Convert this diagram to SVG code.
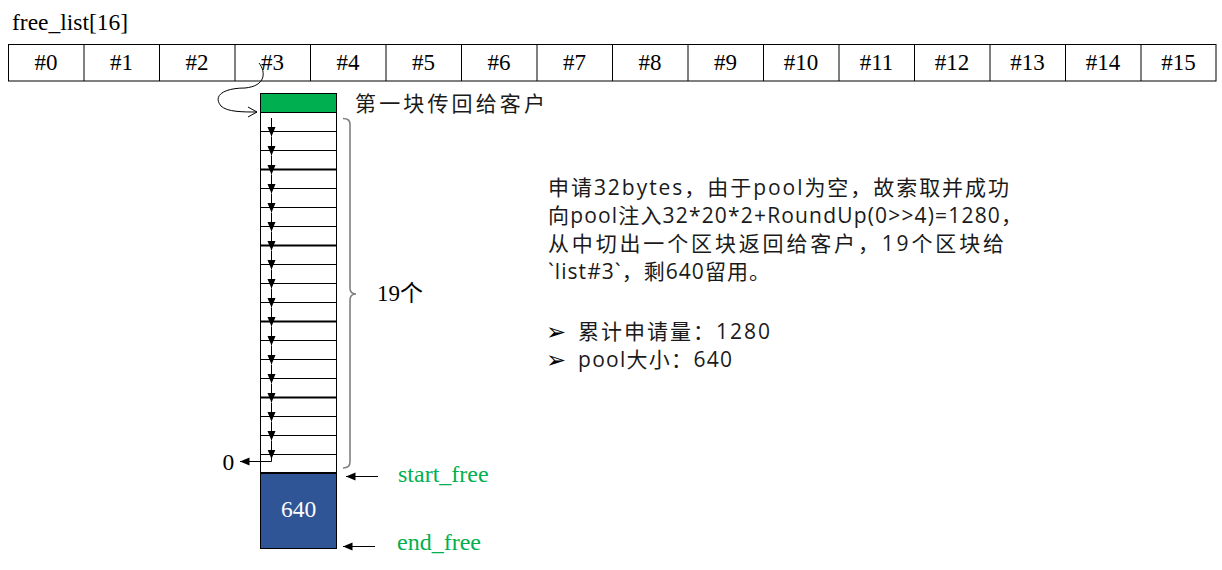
<svg xmlns="http://www.w3.org/2000/svg" width="1222" height="570" viewBox="0 0 1222 570">
<style>
.serif{font-family:"Liberation Serif","Noto Sans CJK SC",serif;fill:#000}
.cell{fill:#fff;stroke:#000;stroke-width:1}
.lbl{font-family:"Liberation Serif",serif;font-size:23px;text-anchor:middle}
.cjk{font-family:"Open Sans","Noto Sans CJK SC",sans-serif;font-size:21px;fill:#1a1a1a}
.green{font-family:"Liberation Serif",serif;font-size:24px;fill:#00B050}
.ln{stroke:#000;stroke-width:1;fill:none}
.bk{stroke:#000;stroke-width:2.2}
.bul{font-family:"DejaVu Sans",sans-serif;font-size:24px;fill:#000}
</style>
<defs>
<marker id="tri" markerUnits="userSpaceOnUse" markerWidth="10" markerHeight="10" viewBox="0 0 10 10" refX="9.5" refY="5" orient="auto">
<path d="M0,1 L9.5,5 L0,9 z" fill="#000"/>
</marker>
<marker id="open" markerUnits="userSpaceOnUse" markerWidth="12" markerHeight="12" viewBox="0 0 12 12" refX="10" refY="6" orient="auto">
<path d="M1,1 L10,6 L1,11" fill="none" stroke="#000" stroke-width="1"/>
</marker>
</defs>
<rect width="1222" height="570" fill="#fff"/>
<g id="title"><text class="serif" x="12" y="30" font-size="23.5">free_list[16]</text></g>
<g id="free_list">
<rect class="cell" x="8.5" y="44.5" width="1207.5" height="36.5"/>
<g class="ln">
<path d="M84,44.5V81M159.5,44.5V81M235,44.5V81M310.5,44.5V81M386,44.5V81M461.5,44.5V81M537,44.5V81M612.5,44.5V81M688,44.5V81M763.5,44.5V81M839,44.5V81M914.5,44.5V81M990,44.5V81M1065.5,44.5V81M1141,44.5V81"/>
</g>
<g class="serif lbl">
<text x="46" y="70">#0</text><text x="121.5" y="70">#1</text><text x="197" y="70">#2</text><text x="272.5" y="70">#3</text><text x="348" y="70">#4</text><text x="423.5" y="70">#5</text><text x="499" y="70">#6</text><text x="574.5" y="70">#7</text><text x="650" y="70">#8</text><text x="725.5" y="70">#9</text><text x="801" y="70">#10</text><text x="876.5" y="70">#11</text><text x="952" y="70">#12</text><text x="1027.5" y="70">#13</text><text x="1103" y="70">#14</text><text x="1178.5" y="70">#15</text>
</g>
</g>
<g id="first_block">
<rect x="260.5" y="93.5" width="76" height="19" fill="#00B050" stroke="#000" stroke-width="1"/>
<text class="cjk" x="355" y="111" font-size="20" textLength="190" lengthAdjust="spacing">第一块传回给客户</text>
</g>
<g id="chunk_column">
<rect x="260.5" y="112.5" width="76" height="361" fill="#fff" stroke="#000" stroke-width="1"/>
<path class="ln" d="M260.5,131.5H336.5M260.5,150.5H336.5M260.5,188.5H336.5M260.5,207.5H336.5M260.5,226.5H336.5M260.5,264.5H336.5M260.5,283.5H336.5M260.5,302.5H336.5M260.5,340.5H336.5M260.5,359.5H336.5M260.5,378.5H336.5M260.5,416.5H336.5M260.5,435.5H336.5M260.5,454.5H336.5"/>
<path class="bk" d="M260,169.5H337M260,245.5H337M260,321.5H337M260,397.5H337M260,473H337"/>
</g>
<g id="connectors">
<path class="ln" d="M259,63 C266,72 266,86 245,88 C225,88 212,95 221,106 C227,112 243,112 257,112" marker-end="url(#open)"/>
<g class="ln" marker-end="url(#tri)">
<path d="M271.5,118V136.5"/><path d="M271.5,137V155.5"/><path d="M271.5,156V174.5"/><path d="M271.5,175V193.5"/><path d="M271.5,194V212.5"/><path d="M271.5,213V231.5"/><path d="M271.5,232V250.5"/><path d="M271.5,251V269.5"/><path d="M271.5,270V288.5"/><path d="M271.5,289V307.5"/><path d="M271.5,308V326.5"/><path d="M271.5,327V345.5"/><path d="M271.5,346V364.5"/><path d="M271.5,365V383.5"/><path d="M271.5,384V402.5"/><path d="M271.5,403V421.5"/><path d="M271.5,422V440.5"/><path d="M271.5,441V459"/>
<path d="M271.5,458V461.5H240"/>
<path d="M378,476.5H346"/>
<path d="M375,546.5H343"/>
</g>
</g>
<g id="zero"><text class="serif" x="222.5" y="470" font-size="23.5">0</text></g>
<g id="bracket">
<path d="M343,118.5 Q350,118.5 350,124 V288 Q350,294 356,294 Q350,294 350,300 V462 Q350,468 343,468" fill="none" stroke="#808080" stroke-width="1.6"/>
<text class="serif" x="377" y="301" font-size="23">19个</text>
</g>
<g id="pool">
<rect x="260.5" y="473.5" width="76" height="75" fill="#2F5597" stroke="#000" stroke-width="1"/>
<text x="298.5" y="517" font-family="Liberation Serif,serif" font-size="23.5" fill="#fff" text-anchor="middle">640</text>
</g>
<g id="labels">
<text class="green" x="398" y="482">start_free</text>
<text class="green" x="397" y="550">end_free</text>
</g>
<g id="description" class="cjk">
<text x="548" y="195" textLength="461" lengthAdjust="spacing">申请32bytes，由于pool为空，故索取并成功</text>
<text x="548" y="223" textLength="474" lengthAdjust="spacing">向pool注入32*20*2+RoundUp(0&gt;&gt;4)=1280，</text>
<text x="548" y="251" textLength="456" lengthAdjust="spacing">从中切出一个区块返回给客户，19个区块给</text>
<text x="548" y="279" textLength="222" lengthAdjust="spacing">`list#3`，剩640留用。</text>
<text class="bul" x="546" y="340">➢</text>
<text x="578" y="339" textLength="192" lengthAdjust="spacing">累计申请量：1280</text>
<text class="bul" x="546" y="368">➢</text>
<text x="578" y="367" textLength="154" lengthAdjust="spacing">pool大小：640</text>
</g>
</svg>
